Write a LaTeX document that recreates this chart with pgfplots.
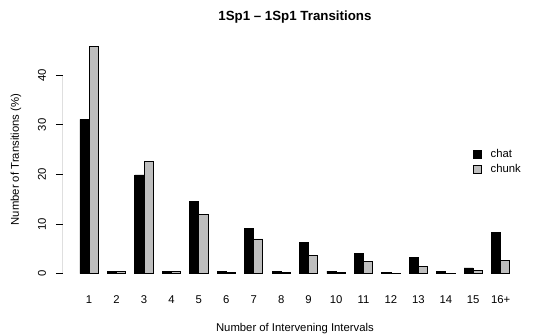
\documentclass[border=0pt]{standalone}
\usepackage{pgfplots}
\pgfplotsset{compat=1.18}
\usepackage{fontspec}
\setmainfont{Liberation Sans}
\begin{document}
\begin{tikzpicture}[x=1pt,y=1pt]
\useasboundingbox (0,0) rectangle (554,333);
\begin{axis}[
  at={(62.8pt,50.2pt)}, anchor=south west,
  scale only axis, width=464.2pt, height=246.4pt,
  xmin=-0.88, xmax=49.88, ymin=-1.84, ymax=47.84,
  font=\fontsize{11.3}{13.4}\selectfont,
  axis line style={draw=none},
  xtick={2,5,8,11,14,17,20,23,26,29,32,35,38,41,44,47},
  xticklabels={1,2,3,4,5,6,7,8,9,10,11,12,13,14,15,16+},
  xtick style={draw=none},
  ytick={0,10,20,30,40},
  ytick pos=left, xtick pos=bottom,
  tick align=outside, major tick length=7pt,
  ytick style={black, line width=0.8pt},
  /pgf/number format/assume math mode=true,
  xticklabel style={anchor=base, yshift=-13.9pt},
  yticklabel style={rotate=90, anchor=base},
  yticklabel shift=10pt,
  xlabel={Number of Intervening Intervals},
  xlabel style={at={(axis description cs:0.5,-0.198)}, anchor=base},
  ylabel={Number of Transitions (\%)},
  ylabel style={at={(axis description cs:-0.0944,0.5)}, anchor=base, rotate=0},
  title={\bfseries 1Sp1 -- 1Sp1 Transitions},
  title style={font=\fontsize{13.3}{15}\selectfont\bfseries, at={(axis description cs:0.5,1.039)}, anchor=base, yshift=0pt},
  legend style={draw=none, fill=none, at={(axis description cs:0.884,0.55)}, anchor=north west, inner sep=0pt, row sep=1.5pt, font=\fontsize{11.3}{13.4}\selectfont},
  legend cell align=left,
  legend image code/.code={\draw[#1, line width=0.8pt] (0pt,-3.85pt) rectangle (7.7pt,3.85pt); \path (14.5pt,0pt);},
]
\addplot[ybar, bar width=1, bar shift=0pt, fill=black, draw=black, line width=0.8pt] coordinates {
(1.5,31.1) (4.5,0.5) (7.5,19.9) (10.5,0.5) (13.5,14.5) (16.5,0.4) (19.5,9.2) (22.5,0.4)
(25.5,6.3) (28.5,0.5) (31.5,4.1) (34.5,0.3) (37.5,3.2) (40.5,0.4) (43.5,1.15) (46.5,8.3)};
\addlegendentry{chat}
\addplot[ybar, bar width=1, bar shift=0pt, fill={rgb,255:red,190;green,190;blue,190}, draw=black, line width=0.8pt] coordinates {
(2.5,45.9) (5.5,0.5) (8.5,22.7) (11.5,0.4) (14.5,11.9) (17.5,0.3) (20.5,7.0) (23.5,0.2)
(26.5,3.6) (29.5,0.2) (32.5,2.4) (35.5,0.1) (38.5,1.5) (41.5,0.1) (44.5,0.7) (47.5,2.7)};
\addlegendentry{chunk}
\draw[black, line width=0.8pt] (axis cs:-0.88,0) -- (axis cs:-0.88,40);
\end{axis}
\end{tikzpicture}
\end{document}
